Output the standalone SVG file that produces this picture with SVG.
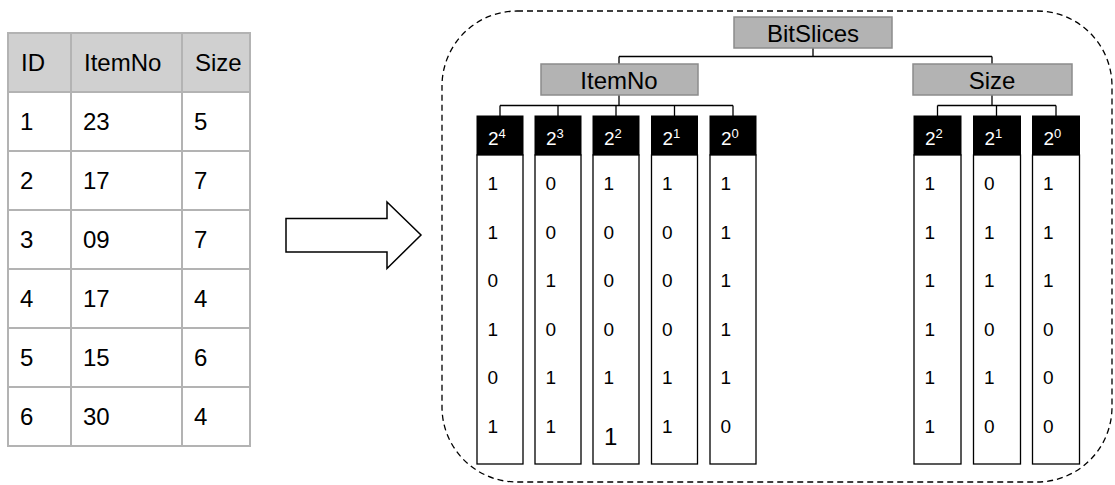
<svg xmlns="http://www.w3.org/2000/svg" width="1115" height="485" viewBox="0 0 1115 485">
  <style>
    text { font-family: "Liberation Sans", Arial, sans-serif; fill: #000; }
    .cell { font-size: 24px; }
    .grid { stroke: #b3b3b3; stroke-width: 2; fill: none; }
    .box { fill: #b3b3b3; stroke: #8c8c8c; stroke-width: 1.5; }
    .lbl { font-size: 24px; text-anchor: middle; }
    .wire { stroke: #000; stroke-width: 1.3; fill: none; }
    .slice-head { fill: #000; stroke: #000; stroke-width: 1; }
    .slice-head-text { font-size: 19px; fill: #fff; }
    .slice-body { fill: #fff; stroke: #000; stroke-width: 1.3; }
    .bit { font-size: 19px; }
  </style>

  <rect width="1115" height="485" fill="#fff"/>

  <!-- source table -->
  <g id="table">
    <rect x="8" y="33" width="242" height="59" fill="#d0d0d0"/>
    <rect class="grid" x="8" y="33" width="242" height="413"/>
    <path class="grid" d="M71 33V446 M182 33V446 M8 92H250 M8 151H250 M8 210H250 M8 269H250 M8 328H250 M8 387H250"/>
    <g class="cell">
      <text x="21" y="71">ID</text><text x="84" y="71">ItemNo</text><text x="195" y="71">Size</text>
      <text x="20" y="130">1</text><text x="83" y="130">23</text><text x="194" y="130">5</text>
      <text x="20" y="189">2</text><text x="83" y="189">17</text><text x="194" y="189">7</text>
      <text x="20" y="248">3</text><text x="83" y="248">09</text><text x="194" y="248">7</text>
      <text x="20" y="307">4</text><text x="83" y="307">17</text><text x="194" y="307">4</text>
      <text x="20" y="366">5</text><text x="83" y="366">15</text><text x="194" y="366">6</text>
      <text x="20" y="425">6</text><text x="83" y="425">30</text><text x="194" y="425">4</text>
    </g>
  </g>

  <!-- block arrow -->
  <g id="arrow">
    <path d="M286 218.5H387V202L421 235L387 268.5V252H286Z" fill="#fff" stroke="#000" stroke-width="1.5" stroke-linejoin="miter"/>
  </g>

  <!-- dashed container -->
  <g id="container">
    <rect x="442" y="11" width="670" height="471" rx="75" ry="75" fill="none" stroke="#000" stroke-width="1.3" stroke-dasharray="6 4"/>
  </g>

  <!-- connectors -->
  <g id="connectors" class="wire">
    <path d="M813 48V56.5 M619 56.5H992 M619 56.5V64 M992 56.5V64"/>
    <path d="M619 95V105.5 M500 105.5H733 M500 105.5V116 M558 105.5V116 M616 105.5V116 M674.5 105.5V116 M733 105.5V116"/>
    <path d="M992 95V105.5 M937.5 105.5H1056 M937.5 105.5V116 M996.5 105.5V116 M1056 105.5V116"/>
  </g>

  <g id="bitslices">
    <rect class="box" x="734" y="17" width="158" height="31"/>
    <text class="lbl" x="813" y="41.5">BitSlices</text>
  </g>
  <g id="itemno">
    <rect class="box" x="541" y="64" width="157" height="31"/>
    <text class="lbl" x="619" y="89">ItemNo</text>
  </g>
  <g id="size">
    <rect class="box" x="913" y="64" width="159" height="31"/>
    <text class="lbl" x="992" y="89">Size</text>
  </g>

  <!-- ItemNo bit slices -->
  <g id="item-b4">
    <rect class="slice-head" x="477" y="116" width="46" height="39"/>
    <text class="slice-head-text" x="488" y="145">2<tspan dy="-7.5" font-size="13">4</tspan></text>
    <rect class="slice-body" x="477" y="155" width="46" height="309"/>
    <g class="bit"><text x="487.5" y="190">1</text><text x="487.5" y="238.5">1</text><text x="487.5" y="287">0</text><text x="487.5" y="335.5">1</text><text x="487.5" y="384">0</text><text x="487.5" y="432.5">1</text></g>
  </g>
  <g id="item-b3">
    <rect class="slice-head" x="535" y="116" width="46" height="39"/>
    <text class="slice-head-text" x="546" y="145">2<tspan dy="-7.5" font-size="13">3</tspan></text>
    <rect class="slice-body" x="535" y="155" width="46" height="309"/>
    <g class="bit"><text x="545.5" y="190">0</text><text x="545.5" y="238.5">0</text><text x="545.5" y="287">1</text><text x="545.5" y="335.5">0</text><text x="545.5" y="384">1</text><text x="545.5" y="432.5">1</text></g>
  </g>
  <g id="item-b2">
    <rect class="slice-head" x="593" y="116" width="46" height="39"/>
    <text class="slice-head-text" x="604" y="145">2<tspan dy="-7.5" font-size="13">2</tspan></text>
    <rect class="slice-body" x="593" y="155" width="46" height="309"/>
    <g class="bit"><text x="603.5" y="190">1</text><text x="603.5" y="238.5">0</text><text x="603.5" y="287">0</text><text x="603.5" y="335.5">0</text><text x="603.5" y="384">1</text><text x="604" y="445" font-size="24">1</text></g>
  </g>
  <g id="item-b1">
    <rect class="slice-head" x="651.5" y="116" width="46" height="39"/>
    <text class="slice-head-text" x="662.5" y="145">2<tspan dy="-7.5" font-size="13">1</tspan></text>
    <rect class="slice-body" x="651.5" y="155" width="46" height="309"/>
    <g class="bit"><text x="662" y="190">1</text><text x="662" y="238.5">0</text><text x="662" y="287">0</text><text x="662" y="335.5">0</text><text x="662" y="384">1</text><text x="662" y="432.5">1</text></g>
  </g>
  <g id="item-b0">
    <rect class="slice-head" x="710" y="116" width="46" height="39"/>
    <text class="slice-head-text" x="721" y="145">2<tspan dy="-7.5" font-size="13">0</tspan></text>
    <rect class="slice-body" x="710" y="155" width="46" height="309"/>
    <g class="bit"><text x="720.5" y="190">1</text><text x="720.5" y="238.5">1</text><text x="720.5" y="287">1</text><text x="720.5" y="335.5">1</text><text x="720.5" y="384">1</text><text x="720.5" y="432.5">0</text></g>
  </g>

  <!-- Size bit slices -->
  <g id="size-b2">
    <rect class="slice-head" x="914" y="116" width="47" height="39"/>
    <text class="slice-head-text" x="925" y="145">2<tspan dy="-7.5" font-size="13">2</tspan></text>
    <rect class="slice-body" x="914" y="155" width="47" height="309"/>
    <g class="bit"><text x="924.5" y="190">1</text><text x="924.5" y="238.5">1</text><text x="924.5" y="287">1</text><text x="924.5" y="335.5">1</text><text x="924.5" y="384">1</text><text x="924.5" y="432.5">1</text></g>
  </g>
  <g id="size-b1">
    <rect class="slice-head" x="973.5" y="116" width="47" height="39"/>
    <text class="slice-head-text" x="984.5" y="145">2<tspan dy="-7.5" font-size="13">1</tspan></text>
    <rect class="slice-body" x="973.5" y="155" width="47" height="309"/>
    <g class="bit"><text x="984" y="190">0</text><text x="984" y="238.5">1</text><text x="984" y="287">1</text><text x="984" y="335.5">0</text><text x="984" y="384">1</text><text x="984" y="432.5">0</text></g>
  </g>
  <g id="size-b0">
    <rect class="slice-head" x="1032.5" y="116" width="47" height="39"/>
    <text class="slice-head-text" x="1043.5" y="145">2<tspan dy="-7.5" font-size="13">0</tspan></text>
    <rect class="slice-body" x="1032.5" y="155" width="47" height="309"/>
    <g class="bit"><text x="1043" y="190">1</text><text x="1043" y="238.5">1</text><text x="1043" y="287">1</text><text x="1043" y="335.5">0</text><text x="1043" y="384">0</text><text x="1043" y="432.5">0</text></g>
  </g>
</svg>
